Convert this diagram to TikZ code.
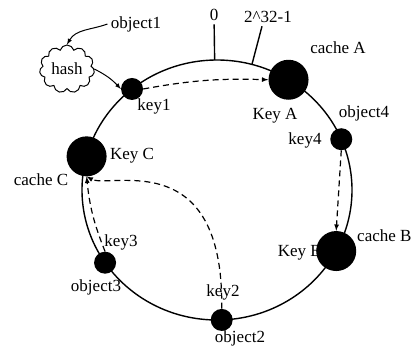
\documentclass[tikz,border=0pt]{standalone}
\usepackage{fontspec}
\setmainfont{Liberation Serif}
\usetikzlibrary{arrows,shapes}

\begin{document}
\begin{tikzpicture}[x=1pt,y=1pt,font=\fontsize{17}{19}\selectfont,
    keydot/.style={circle,fill=black,minimum size=22pt,inner sep=0pt},
    cachedot/.style={circle,fill=black,minimum size=40pt,inner sep=0pt},
    ring/.style={line width=1.4pt},
    hop/.style={line width=1.2pt,dash pattern=on 6pt off 4pt,-latex}]
\useasboundingbox (0,0) rectangle (414,349);
\coordinate (c) at (217,159);
\draw[ring] (c) ellipse [x radius=135, y radius=130];
\coordinate (top) at ([shift={(91:135 and 130)}]c);
\coordinate (last) at ([shift={(75:135 and 130)}]c);
\node (zero) at (214,334) {0};
\node (max) at (268,332) {2\textasciicircum 32-1};
\draw[ring] (zero) -- (top);
\draw[ring] ([xshift=-6pt]max.south) -- (last);
\node (cacheA) at (338,301) {cache A};
\node (cacheB) [anchor=west,inner sep=0pt] at (357,113) {cache B};
\node (cacheC) at (41,169) {cache C};
\node (labA) at (275,233) {Key A};
\node (labB) [anchor=east,inner sep=0pt] at (322,96) {Key B};
\node (labC) at (132,193) {Key C};
\node (lab1) at (154,243) {key1};
\node (lab2) at (223,57) {key2};
\node (lab3) at (121,107) {key3};
\node (lab4) at (305,209) {key4};
\node (object1) at (136,325) {object1};
\node (object2) at (240,11) {object2};
\node (object3) at (96,62) {object3};
\node (object4) at (364,236) {object4};
\node [keydot] (key1) at ([shift={(129:135 and 130)}]c) {};
\node [keydot] (key4) at ([shift={(23:135 and 130)}]c) {};
\node [keydot] (key2) at ([shift={(-88:135 and 130)}]c) {};
\node [keydot] (key3) at ([shift={(-146:135 and 130)}]c) {};
\node [cachedot] (keyA) at ([shift={(58:135 and 130)}]c) {};
\node [cachedot] (keyB) at ([shift={(-28:135 and 130)}]c) {};
\node [cachedot] (keyC) at ([shift={(165:135 and 130)}]c) {};
\node [cloud,draw,fill=white,cloud puffs=11,aspect=1.2,inner sep=0pt,line width=1pt,
    minimum width=55pt,minimum height=48pt] (hash) at (67,280) {hash};
\draw[line width=1pt,-latex] (object1.west) to[out=200,in=60] (hash.north);
\draw[line width=1pt,-latex] (hash.east) to[bend left=10] (key1.west);
\draw[hop] (key1.east) to[bend left=6] (keyA.west);
\draw[hop] (key4.south) -- (keyB.north);
\draw[hop] (key3.north) to[bend left=8] (keyC.south);
\draw[hop] (key2.north) .. controls (224,205) and (110,160) .. (keyC.south);
\end{tikzpicture}
\end{document}
